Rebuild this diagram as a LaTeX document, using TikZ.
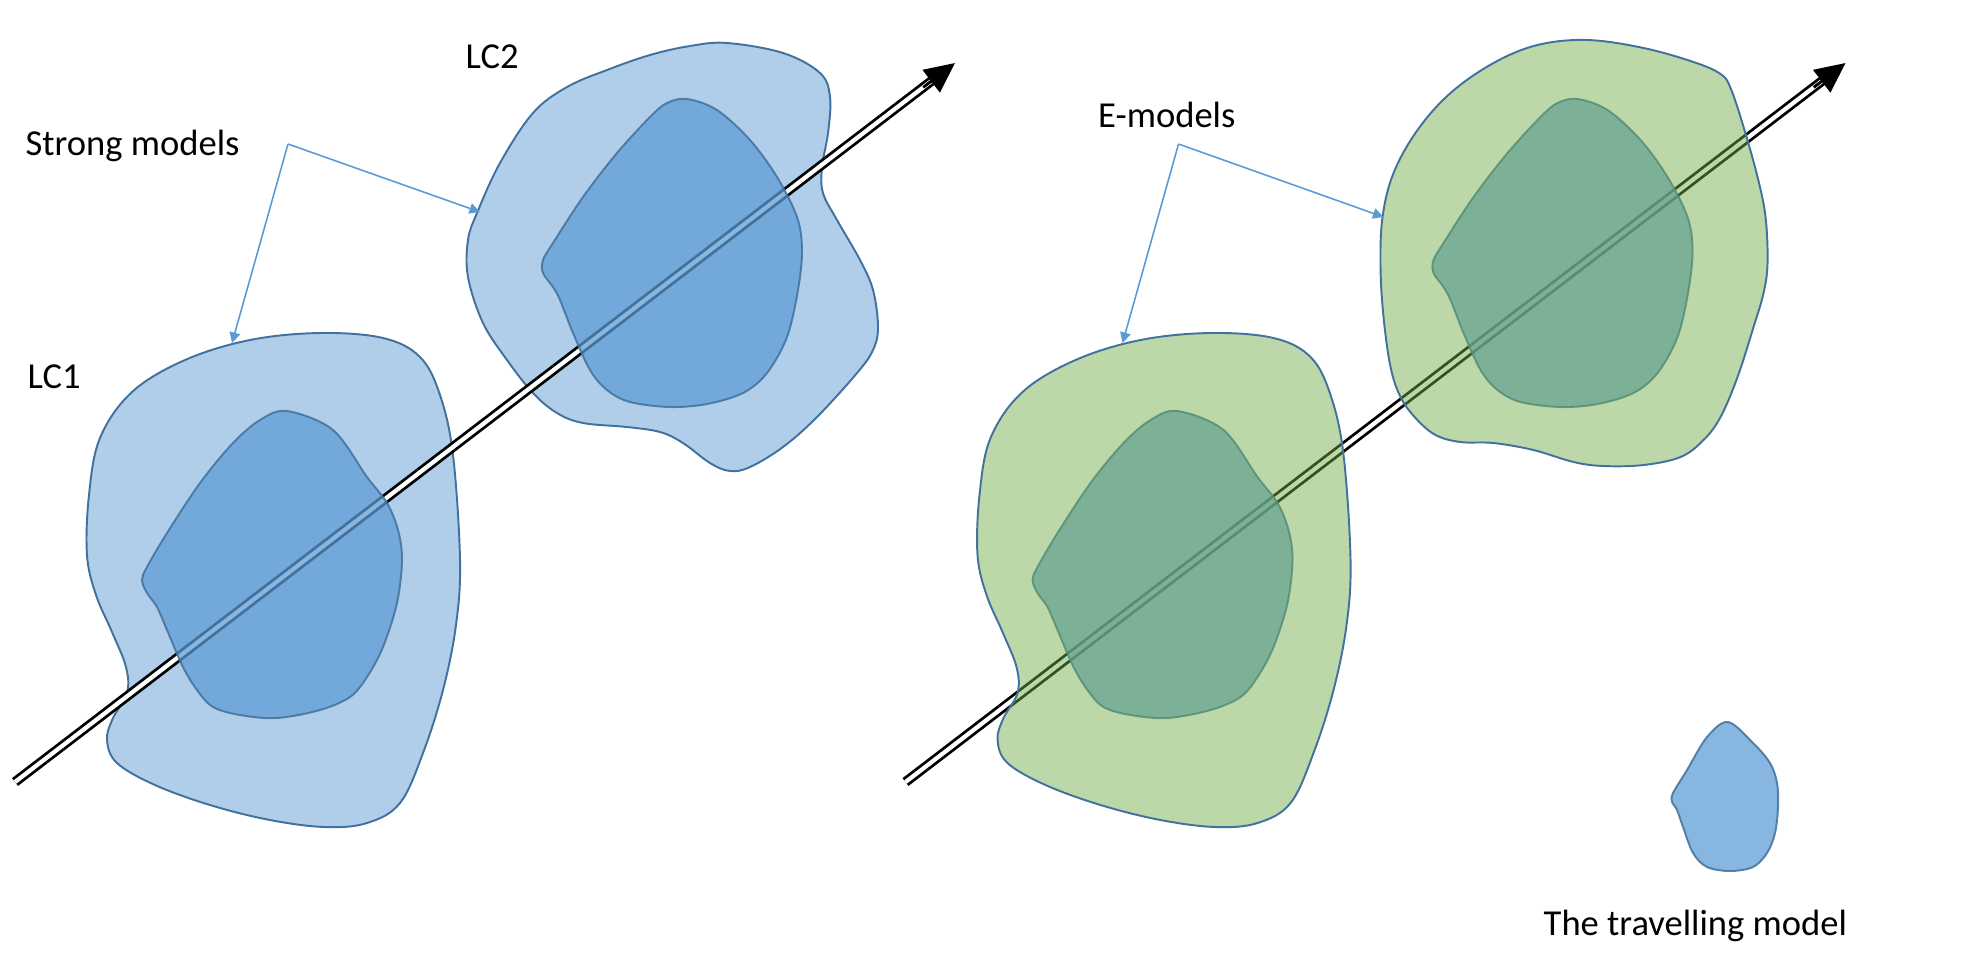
\documentclass[tikz,border=0pt]{standalone}
\usepackage{fontspec}
\setmainfont{Carlito}
\usetikzlibrary{arrows.meta, calc, positioning}

\definecolor{lineblue}{HTML}{41719C}
\definecolor{lightblue}{HTML}{B0CEEA}
\definecolor{midblue}{HTML}{5B9BD5}
\definecolor{egreen}{HTML}{70AD47}

\begin{document}
\begin{tikzpicture}[x=0.01cm, y=-0.01cm, >=Latex,
    outerLC/.style={draw=lineblue, line width=0.55pt, fill=lightblue},
    innerLC/.style={draw=lineblue, line width=0.55pt, fill=midblue, fill opacity=0.73, draw opacity=0.85},
    eModel/.style={draw=lineblue, line width=0.55pt, fill=egreen, fill opacity=0.47},
    track/.style={draw=black, double=white, line width=0.8pt, double distance=1.2pt},
    tiphead/.style={-{Triangle[length=0.3cm, width=0.28cm]}, line width=0.8pt},
    callout/.style={draw=midblue, line width=0.45pt, -{Triangle[length=3pt, width=3pt]}},
    lbl/.style={anchor=base west, inner sep=0pt, font=\fontsize{10.4}{12}\selectfont}]

    \useasboundingbox (0,0) rectangle (1986,969);

    %% strong models
    \draw[outerLC] plot[smooth cycle, tension=0.6] coordinates {(87,555) (89,495) (100,438) (132,392) (185,360) (250,340) (320,333) (383,338) (420,357) (440,395) (453,455) (460,560) (456,625) (443,690) (423,753) (400,803) (367,823) (325,827) (270,820) (210,805) (155,785) (117,763) (107,740) (113,718) (127,693) (126,667) (112,632) (96,595)};
    \draw[outerLC] plot[smooth cycle, tension=0.6] coordinates {(727,43) (783,53) (820,73) (830,97) (828,133) (822,167) (823,193) (837,220) (860,260) (873,290) (878,327) (873,350) (857,373) (817,417) (783,447) (750,467) (730,471) (710,463) (683,443) (660,432) (627,427) (583,423) (557,413) (533,393) (507,360) (483,323) (468,277) (468,240) (477,213) (500,163) (533,113) (567,87) (607,70) (650,55) (690,46)};

    \coordinate (ls) at (15,782);
    \coordinate (le) at (955,63);
    \draw[track] (ls) -- ($(le)!0.2cm!(ls)$);
    \draw[tiphead] ($(le)!0.4cm!(ls)$) -- (le);

    \draw[innerLC] plot[smooth cycle, tension=0.55] coordinates {(287,411) (333,430) (367,477) (387,503) (398,530) (402,560) (397,603) (383,647) (367,677) (350,697) (320,710) (277,718) (240,715) (213,707) (197,690) (183,667) (167,630) (157,607) (147,593) (142,580) (147,567) (167,533) (200,483) (233,443) (260,420)};
    \draw[innerLC] plot[smooth cycle, tension=0.55] coordinates {(687,99) (717,110) (750,140) (777,177) (797,217) (802,250) (798,290) (787,337) (767,373) (743,393) (707,404) (670,407) (630,402) (607,390) (590,370) (573,333) (560,300) (553,287) (543,273) (543,260) (553,243) (583,197) (617,153) (650,117) (667,103)};

    \node (lcTwo) [lbl] at (465,68) {LC2};
    \node (strong) [lbl] at (25,155) {Strong models};
    \node (lcOne) [lbl] at (27,388) {LC1};

    \coordinate (smv) at (288,144);
    \coordinate (smTwo) at (480,212);
    \coordinate (smOne) at (232,343);
    \draw[callout] (smv) -- (smTwo);
    \draw[callout] (smv) -- (smOne);

    %% e-models
    \begin{scope}[xshift=8.9cm]
    \coordinate (es) at (15,782);
    \coordinate (ee) at (955,63);
    \draw[track] (es) -- ($(ee)!0.2cm!(es)$);
    \draw[tiphead] ($(ee)!0.4cm!(es)$) -- (ee);

    \draw[innerLC] plot[smooth cycle, tension=0.55] coordinates {(287,411) (333,430) (367,477) (387,503) (398,530) (402,560) (397,603) (383,647) (367,677) (350,697) (320,710) (277,718) (240,715) (213,707) (197,690) (183,667) (167,630) (157,607) (147,593) (142,580) (147,567) (167,533) (200,483) (233,443) (260,420)};
    \draw[innerLC] plot[smooth cycle, tension=0.55] coordinates {(687,99) (717,110) (750,140) (777,177) (797,217) (802,250) (798,290) (787,337) (767,373) (743,393) (707,404) (670,407) (630,402) (607,390) (590,370) (573,333) (560,300) (553,287) (543,273) (543,260) (553,243) (583,197) (617,153) (650,117) (667,103)};

    \draw[eModel] plot[smooth cycle, tension=0.6] coordinates {(87,555) (89,495) (100,438) (132,392) (185,360) (250,340) (320,333) (383,338) (420,357) (440,395) (453,455) (460,560) (456,625) (443,690) (423,753) (400,803) (367,823) (325,827) (270,820) (210,805) (155,785) (117,763) (107,740) (113,718) (127,693) (126,667) (112,632) (96,595)};
    \draw[eModel] plot[smooth cycle, tension=0.6] coordinates {(697,40) (753,48) (803,62) (830,74) (840,88) (853,127) (867,177) (875,217) (877,263) (873,293) (863,327) (847,377) (830,417) (813,440) (790,457) (753,465) (713,466) (683,462) (643,450) (603,443) (570,442) (545,435) (525,418) (510,397) (500,367) (493,317) (490,267) (492,217) (503,173) (527,130) (560,93) (603,63) (647,45)};

    \node (emod) [lbl] at (207,127) {E-models};

    \coordinate (emv) at (288,144);
    \coordinate (emTwo) at (493,217);
    \coordinate (emOne) at (232,343);
    \draw[callout] (emv) -- (emTwo);
    \draw[callout] (emv) -- (emOne);
    \end{scope}

    %% travelling model
    \draw[innerLC] plot[smooth cycle, tension=0.55] coordinates {(1728,722) (1753,743) (1770,763) (1777,783) (1778,807) (1775,833) (1767,853) (1753,867) (1730,871) (1707,867) (1693,853) (1683,827) (1677,810) (1672,802) (1673,793) (1687,770) (1707,737)};
    \node (travel) [lbl] at (1543,935) {The travelling model};

\end{tikzpicture}
\end{document}
